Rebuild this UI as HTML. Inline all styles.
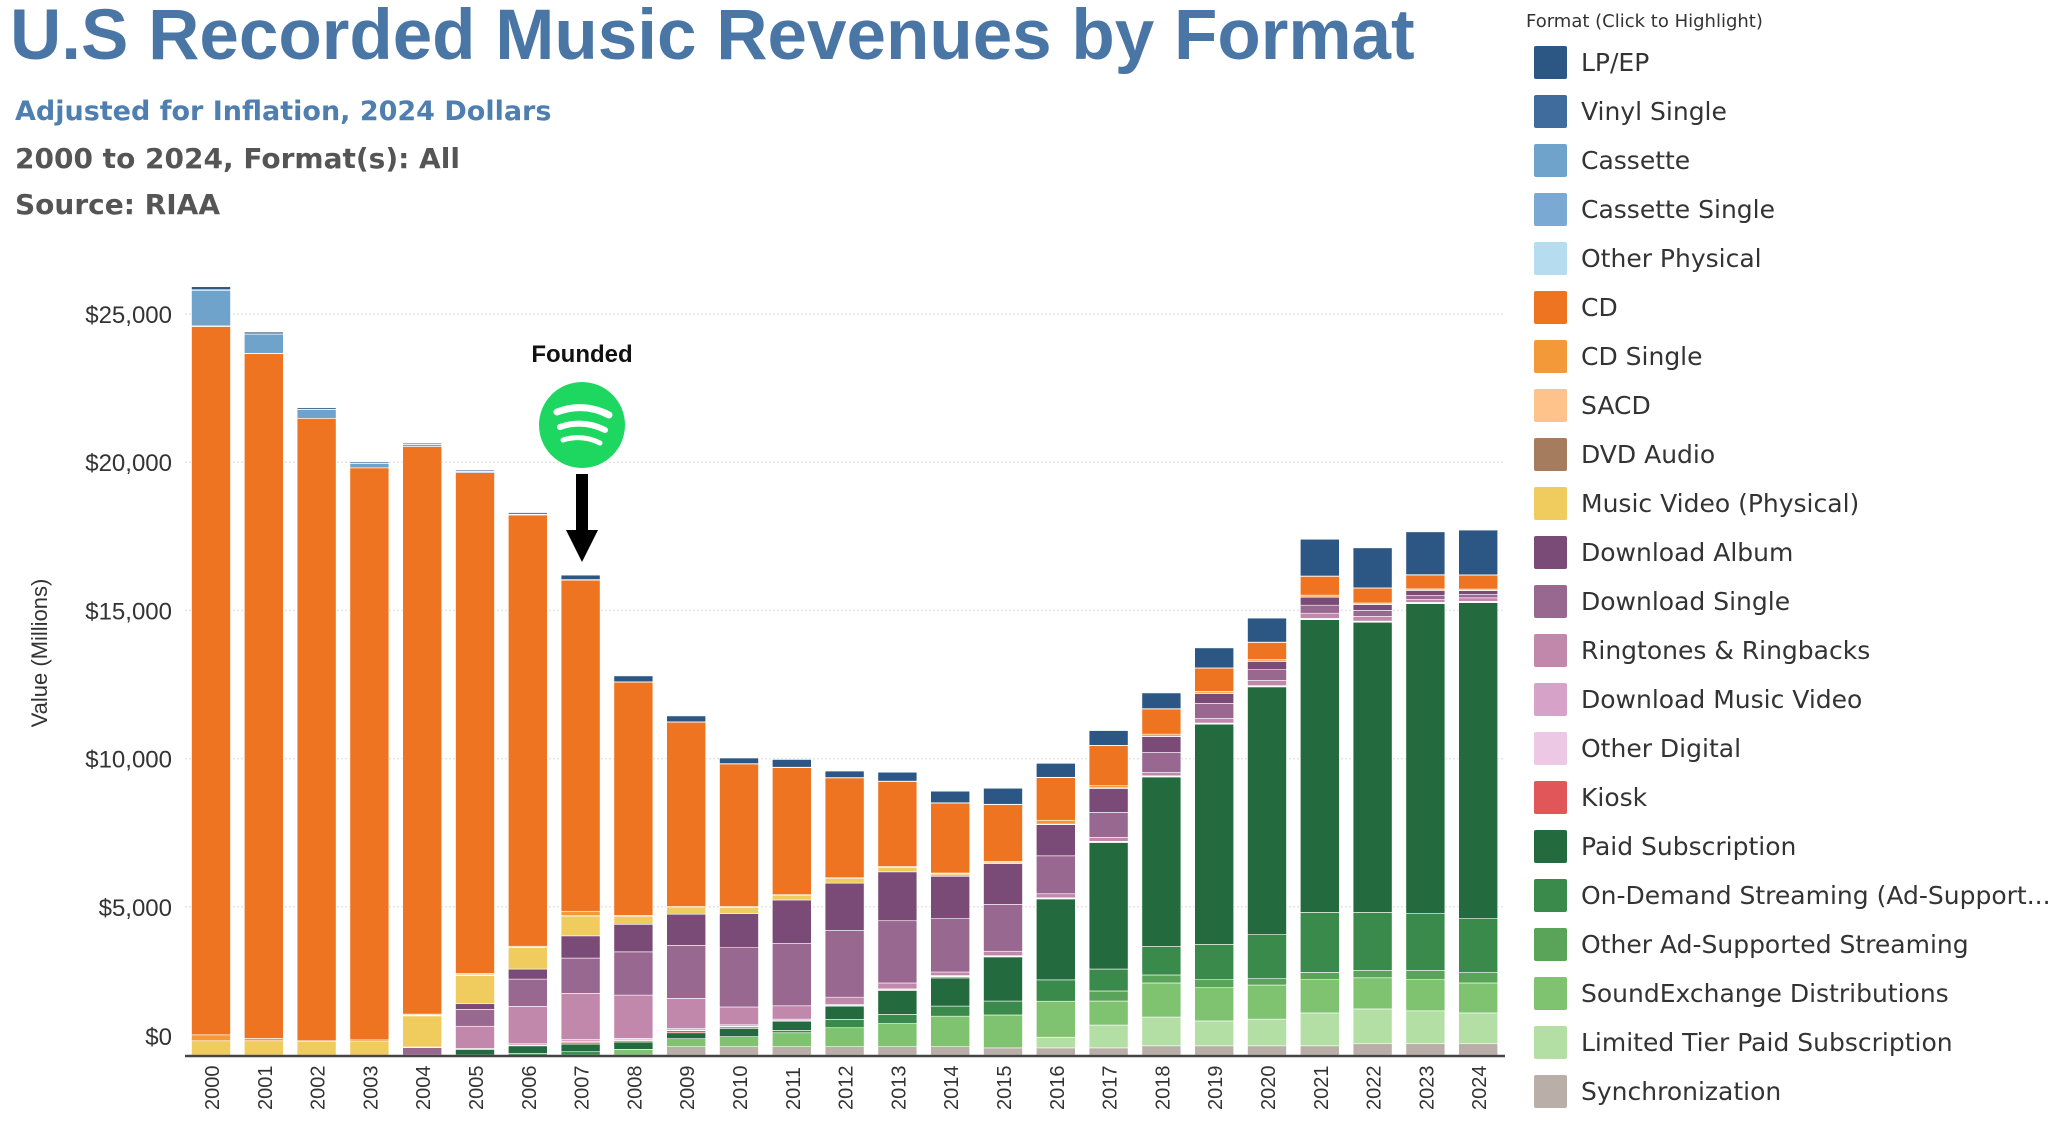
<!DOCTYPE html>
<html><head><meta charset="utf-8"><style>
body{margin:0;width:2048px;height:1124px;background:#fff;overflow:hidden;font-family:"Liberation Sans",sans-serif;position:relative}
.t{position:absolute;white-space:nowrap}
</style></head><body>
<div class="t" style="left:10px;top:-5px;font-size:71px;font-weight:bold;color:#4a76a6">U.S Recorded Music Revenues by Format</div>
<div class="t" style="left:15px;top:96px;font-size:27px;font-weight:bold;color:#4e7fb0;font-family:'DejaVu Sans',sans-serif">Adjusted for Inflation, 2024 Dollars</div>
<div class="t" style="left:15px;top:142px;font-size:28px;font-weight:bold;color:#555;font-family:'DejaVu Sans',sans-serif">2000 to 2024, Format(s): All</div>
<div class="t" style="left:15px;top:188px;font-size:28px;font-weight:bold;color:#555;font-family:'DejaVu Sans',sans-serif">Source: RIAA</div>
<svg id="chart" width="2048" height="1124" style="position:absolute;left:0;top:0" xmlns="http://www.w3.org/2000/svg"></svg>
<script>
const years=[2000,2001,2002,2003,2004,2005,2006,2007,2008,2009,2010,2011,2012,2013,2014,2015,2016,2017,2018,2019,2020,2021,2022,2023,2024];
const formats=["LP/EP","Vinyl Single","Cassette","Cassette Single","Other Physical","CD","CD Single","SACD","DVD Audio","Music Video (Physical)","Download Album","Download Single","Ringtones & Ringbacks","Download Music Video","Other Digital","Kiosk","Paid Subscription","On-Demand Streaming (Ad-Support...","Other Ad-Supported Streaming","SoundExchange Distributions","Limited Tier Paid Subscription","Synchronization"];
const colors=["#2c5784","#3f6c9c","#6fa3cc","#7aaad4","#b6dcef","#ee7421","#f4993a","#fdc38a","#a67c5f","#f0cb5e","#7a4b77","#996891","#c188ac","#d7a2c7","#ecc8e5","#e15759","#236b3e","#3a8a4b","#5aa45a","#7fc270","#b3dfa5","#b9aea8"];
const lpEp=[100,60,50,40,40,40,50,150,200,200,190,260,220,300,390,540,470,500,530,675,810,1240,1350,1445,1510];
const vinylSingle=[20,10,10,10,10,10,10,10,10,10,10,10,10,10,10,10,10,10,10,10,10,10,10,10,10];
const cassette=[1200,650,300,150,60,30,20,10,0,0,0,0,0,0,0,0,0,0,0,0,0,0,0,0,0];
const cassetteSingle=[20,10,0,0,0,0,0,0,0,0,0,0,0,0,0,0,0,0,0,0,0,0,0,0,0];
const otherPhysical=[0,0,0,0,0,0,0,0,0,0,0,0,0,0,0,0,0,0,0,0,0,0,0,0,0];
const cd=[23900,23100,21000,19300,19150,16900,14550,11170,7870,6220,4810,4290,3370,2870,2360,1920,1440,1350,850,780,580,635,500,470,470];
const cdSingle=[200,80,30,60,30,40,30,150,40,40,30,30,30,30,30,40,130,70,70,60,50,60,40,40,40];
const sacd=[0,0,0,0,20,20,10,10,0,0,0,0,0,0,0,0,0,0,0,0,0,0,0,0,0];
const dvdAudio=[0,0,0,0,10,10,0,0,0,0,0,0,0,0,0,0,0,0,0,0,0,0,0,0,0];
const musicVideo=[480,480,450,450,1050,950,730,670,260,220,210,150,150,150,80,30,20,20,10,10,10,10,10,10,10];
const downloadAlbum=[0,0,0,0,20,190,340,750,930,1050,1150,1470,1600,1650,1430,1380,1050,810,540,340,280,270,200,175,135];
const downloadSingle=[0,0,0,0,250,570,920,1190,1460,1790,2000,2100,2250,2100,1800,1580,1280,840,675,500,365,270,200,135,110];
const ringtones=[0,0,0,0,0,750,1260,1560,1460,1020,600,450,250,200,120,150,135,135,110,160,175,175,160,95,120];
const downloadMV=[0,0,0,0,0,30,50,70,50,50,50,50,30,30,20,20,20,20,20,20,20,20,20,20,20];
const otherDigital=[0,0,0,0,0,0,20,20,20,20,20,20,20,20,20,20,20,20,20,20,20,20,20,20,20];
const kiosk=[0,0,0,0,0,0,0,60,50,70,50,0,0,0,40,0,0,0,0,0,0,0,0,0,0];
const paidSub=[0,0,0,0,0,190,260,260,250,200,280,310,450,810,950,1490,2730,4270,5720,7430,8360,9880,9790,10460,10665];
const onDemand=[0,0,0,0,0,0,50,110,0,0,0,80,280,310,340,470,720,740,960,1190,1485,2025,1960,1920,1820];
const otherAd=[0,0,0,0,0,0,0,0,0,0,0,0,0,0,0,0,0,340,270,270,215,245,245,310,350];
const soundExchange=[0,0,0,0,0,0,0,0,190,270,340,470,640,780,1030,1110,1215,810,1150,1120,1150,1120,1050,1050,1010];
const limitedTier=[0,0,0,0,0,0,0,0,0,0,0,0,0,0,0,0,360,770,970,840,900,1110,1175,1110,1040];
const sync=[0,0,0,0,0,0,0,0,0,280,280,280,280,280,280,240,240,240,310,310,310,310,380,380,380];
const series=[lpEp,vinylSingle,cassette,cassetteSingle,otherPhysical,cd,cdSingle,sacd,dvdAudio,musicVideo,downloadAlbum,downloadSingle,ringtones,downloadMV,otherDigital,kiosk,paidSub,onDemand,otherAd,soundExchange,limitedTier,sync];
const yTicks=[0,5000,10000,15000,20000,25000];
const yTickLabels=["$0","$5,000","$10,000","$15,000","$20,000","$25,000"];

const NS="http://www.w3.org/2000/svg";
const svg=document.getElementById('chart');
const baseY=1055,pxPer=148.2/5000,x0=211,step=52.8,bw=39;
const yScale=v=>baseY-v*pxPer;
const xScale=i=>x0+i*step;
function mk(tag,attrs,parent){const e=document.createElementNS(NS,tag);for(const k in attrs)e.setAttribute(k,attrs[k]);(parent||svg).appendChild(e);return e;}
yTicks.forEach((v,i)=>{
  if(v>0){const g=mk('line',{x1:185,x2:1505,y1:yScale(v),y2:yScale(v),stroke:'#e4e4e4','stroke-width':1.5,'stroke-dasharray':'2,2'});
  
  }
  const t=mk('text',{x:172,y:yScale(v)+(v===0?-10:9),'text-anchor':'end','font-size':24,fill:'#333','font-family':'Liberation Sans, sans-serif'});
  t.textContent=yTickLabels[i];
  
  
});
const yt=mk('text',{x:0,y:0,transform:'translate(47,653) rotate(-90)','text-anchor':'middle','font-size':22,fill:'#333','font-family':'Liberation Sans, sans-serif'});
yt.textContent='Value (Millions)';


years.forEach((yr,i)=>{
  let cum=0;
  for(let s=series.length-1;s>=0;s--){
    const v=series[s][i];if(!v)continue;
    const r=mk('rect',{x:xScale(i)-bw/2,y:yScale(cum+v),width:bw,height:v*pxPer,fill:colors[s],stroke:'#fff','stroke-width':0.6});
    
    
    cum+=v;
  }
  const t=mk('text',{x:0,y:0,transform:`translate(${xScale(i)+8},${1110}) rotate(-90)`,'font-size':20,fill:'#333','font-family':'Liberation Sans, sans-serif'});
  t.textContent=yr;
  
  
});
const ax=mk('line',{x1:185,x2:1505,y1:baseY+1,y2:baseY+1,stroke:'#444','stroke-width':2.5});


const ft=mk('text',{x:582,y:362,'text-anchor':'middle','font-size':24,'font-weight':'bold',fill:'#111','font-family':'Liberation Sans, sans-serif'});
ft.textContent='Founded';


const lg=mk('g',{});


mk('circle',{cx:582,cy:425,r:43,fill:'#1ed760'},lg);
mk('path',{d:'M557 412 Q584 402 609 415',stroke:'#fff','stroke-width':7,fill:'none','stroke-linecap':'round'},lg);
mk('path',{d:'M560 427 Q583 419 605 430',stroke:'#fff','stroke-width':6,fill:'none','stroke-linecap':'round'},lg);
mk('path',{d:'M563 440 Q582 434 600 443',stroke:'#fff','stroke-width':5,fill:'none','stroke-linecap':'round'},lg);
const ar=mk('g',{});


mk('rect',{x:576,y:474,width:12,height:60,fill:'#000'},ar);
mk('polygon',{points:'566,530 598,530 582,562',fill:'#000'},ar);
const lh=mk('text',{x:1526,y:27,'font-size':18,fill:'#333','font-family':'DejaVu Sans, sans-serif'});
lh.textContent='Format (Click to Highlight)';


formats.forEach((f,i)=>{
  const cy=62+i*49;
  const g=mk('g',{});
  
  
  mk('rect',{x:1534,y:cy-16,width:33,height:33,rx:2,fill:colors[i]},g);
  const t=mk('text',{x:1581,y:cy+9,'font-size':25,fill:'#333','font-family':'DejaVu Sans, sans-serif'},g);
  t.textContent=f;
});
</script>
</body></html>
